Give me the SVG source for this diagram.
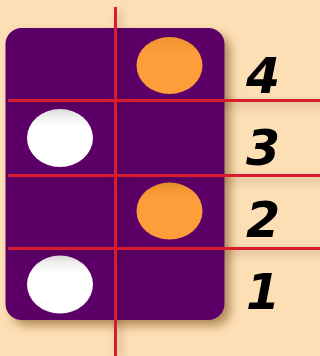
<svg xmlns="http://www.w3.org/2000/svg" width="320" height="356" viewBox="0 0 320 356">
<defs>
<filter id="sh" x="-20%" y="-20%" width="150%" height="150%">
<feDropShadow dx="6" dy="6" stdDeviation="5" flood-color="#6b3a00" flood-opacity="0.5"/>
</filter>
<filter id="lsh" x="-20%" y="-20%" width="150%" height="150%">
<feDropShadow dx="4" dy="4" stdDeviation="4" flood-color="#3a1000" flood-opacity="0.3"/>
</filter>
<linearGradient id="gw" x1="0" y1="0" x2="0" y2="1">
<stop offset="0" stop-color="#e4e4e4"/>
<stop offset="0.3" stop-color="#ffffff"/>
</linearGradient>
<linearGradient id="go" x1="0" y1="0" x2="0" y2="1">
<stop offset="0" stop-color="#ef942f"/>
<stop offset="0.3" stop-color="#fd9e3a"/>
</linearGradient>
</defs>
<style>
.wp{fill:url(#gw)}
.op{fill:url(#go)}
.ln{stroke:#d61f2e;stroke-width:3;fill:none}
.lb{font-family:"DejaVu Sans",Verdana,sans-serif;font-weight:bold;font-style:italic;font-size:49px;fill:#000}
</style>
<rect width="320" height="356" fill="#fddfb5"/>
<g id="board">
<rect x="5.5" y="28" width="219" height="292" rx="16" fill="#5c0068" filter="url(#sh)"/>
</g>
<g id="pieces">
<g id="p4"><ellipse class="op" cx="169.5" cy="65.5" rx="33" ry="28.5"/></g>
<g id="p3"><ellipse class="wp" cx="60" cy="138" rx="33" ry="29"/></g>
<g id="p2"><ellipse class="op" cx="169.5" cy="211" rx="33" ry="28.5"/></g>
<g id="p1"><ellipse class="wp" cx="60" cy="284.5" rx="33" ry="29"/></g>
</g>
<g id="connectors" filter="url(#lsh)">
<line class="ln" x1="115.5" y1="7" x2="115.5" y2="356"/>
<line class="ln" x1="8" y1="100.5" x2="320" y2="100.5"/>
<line class="ln" x1="8" y1="175.5" x2="320" y2="175.5"/>
<line class="ln" x1="8" y1="248.5" x2="320" y2="248.5"/>
</g>
<g id="labels">
<g id="l4"><text class="lb" x="246" y="93">4</text></g>
<g id="l3"><text class="lb" x="246" y="165">3</text></g>
<g id="l2"><text class="lb" x="246" y="237">2</text></g>
<g id="l1"><text class="lb" x="246" y="309">1</text></g>
</g>
</svg>
